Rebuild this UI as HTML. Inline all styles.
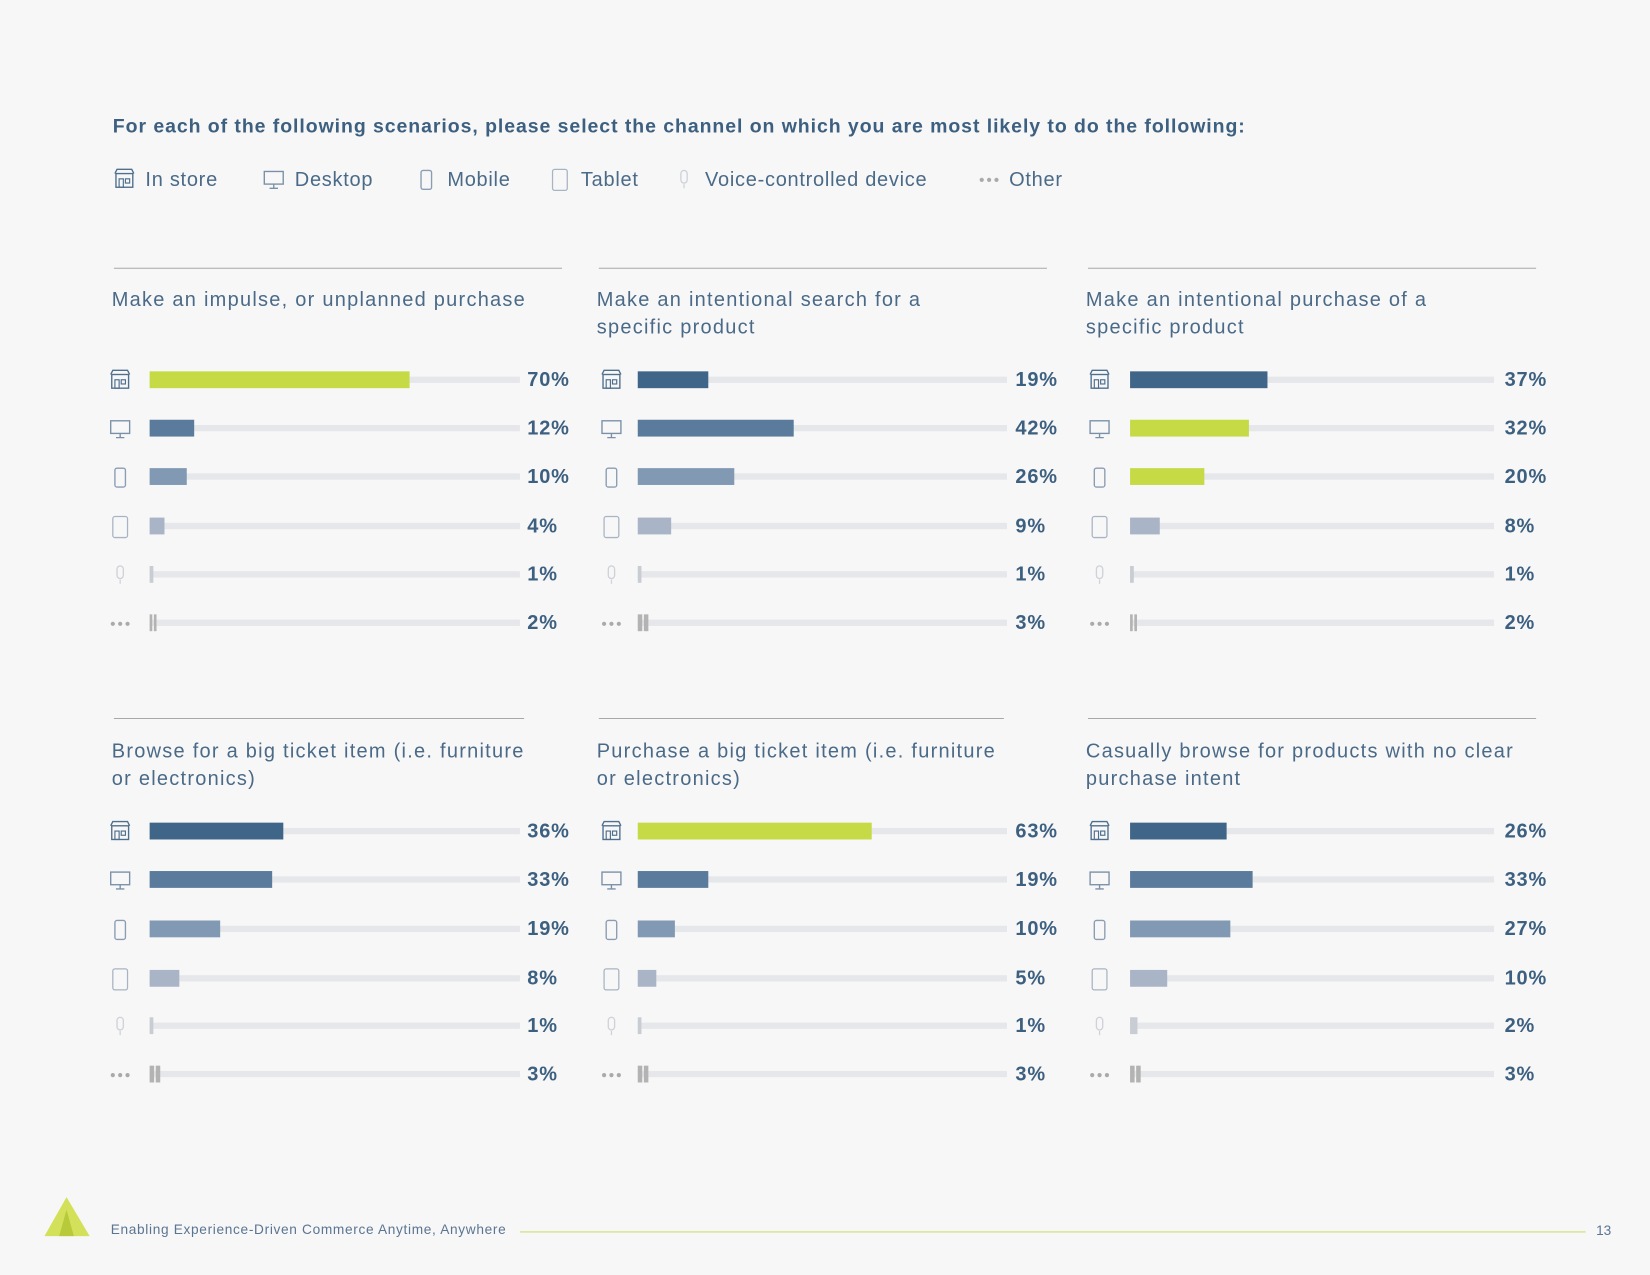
<!DOCTYPE html>
<html><head><meta charset="utf-8"><style>
html,body{margin:0;padding:0;background:#f7f7f7;}
svg{display:block;font-family:"Liberation Sans",sans-serif;}
.t{fill:#4a6a88;font-size:19px;letter-spacing:0.7px;}
.pt{fill:#4a6a88;font-size:19px;letter-spacing:1.2px;}
.pct{fill:#3d6080;font-size:19px;font-weight:bold;letter-spacing:0.8px;}
</style></head><body>
<svg id="chart" width="1650" height="1275" viewBox="0 0 1568 1212" xmlns="http://www.w3.org/2000/svg">
<rect width="1568" height="1212" fill="#f7f7f7"/>
<text x="107" y="126" fill="#3d6080" font-size="18.5" font-weight="bold" letter-spacing="0.9">For each of the following scenarios, please select the channel on which you are most likely to do the following:</text>
<g id="legend"></g>
<g id="panels"></g>
<g>
<polygon points="63,1138 85,1175 42,1175" fill="#d3e05a"/>
<polygon points="63,1150 70,1175 56,1175" fill="#b8c93a"/>
<text x="105" y="1173" fill="#5a7592" font-size="13" letter-spacing="0.5" textLength="376">Enabling Experience-Driven Commerce Anytime, Anywhere</text>
<line x1="494" y1="1171" x2="1507" y2="1171" stroke="#d8e494" stroke-width="1.5"/>
<text x="1517" y="1174" fill="#5a7592" font-size="13">13</text>
</g>
</svg>
<script>
const channels=["In store","Desktop","Mobile","Tablet","Voice-controlled device","Other"];
const scenarios=[["Make an impulse, or unplanned purchase"],["Make an intentional search for a","specific product"],["Make an intentional purchase of a","specific product"],["Browse for a big ticket item (i.e. furniture","or electronics)"],["Purchase a big ticket item (i.e. furniture","or electronics)"],["Casually browse for products with no clear","purchase intent"]];
const values1=[70,12,10,4,1,2];
const values2=[19,42,26,9,1,3];
const values3=[37,32,20,8,1,2];
const values4=[36,33,19,8,1,3];
const values5=[63,19,10,5,1,3];
const values6=[26,33,27,10,2,3];
const highlights=[[0],[],[1,2],[],[0],[]];
const allValues=[values1,values2,values3,values4,values5,values6];
const NS="http://www.w3.org/2000/svg";
function mk(tag,attrs,parent){const e=document.createElementNS(NS,tag);for(const k in attrs)e.setAttribute(k,attrs[k]);parent.appendChild(e);return e;}
const colors=["#3f6688","#5b7b9c","#8199b3","#a9b5c7","#c8ccd3","#b3b3b3"];
function icon(i,x,y,p){const g=mk('g',{},p);
 const st=i===4?'#cfd3d8':(i===5?'#aaa':'#4f6f8e');
 if(i===0){mk('rect',{x:x-8,y:y-6,width:16,height:13,fill:'none',stroke:st,'stroke-width':1.3},g);mk('path',{d:`M${x-9} ${y-6}L${x-7} ${y-10}H${x+7}L${x+9} ${y-6}`,fill:'none',stroke:st,'stroke-width':1.3},g);mk('rect',{x:x-5,y:y-1,width:4,height:8,fill:'none',stroke:st,'stroke-width':1.1},g);mk('rect',{x:x+1,y:y-1,width:4,height:4,fill:'none',stroke:st,'stroke-width':1.1},g);}
 else if(i===1){mk('rect',{x:x-9,y:y-8,width:18,height:12,fill:'none',stroke:'#7a90a8','stroke-width':1.3},g);mk('path',{d:`M${x-4} ${y+8}H${x+4}M${x} ${y+4}V${y+8}`,stroke:'#7a90a8','stroke-width':1.3},g);}
 else if(i===2){mk('rect',{x:x-5,y:y-9,width:10,height:18,rx:2,fill:'none',stroke:'#8a9db2','stroke-width':1.3},g);}
 else if(i===3){mk('rect',{x:x-7,y:y-10,width:14,height:20,rx:2,fill:'none',stroke:'#a8b4c4','stroke-width':1.2},g);}
 else if(i===4){mk('rect',{x:x-3,y:y-9,width:6,height:12,rx:3,fill:'none',stroke:st,'stroke-width':1.3},g);mk('path',{d:`M${x} ${y+4}V${y+8}`,stroke:st,'stroke-width':1.2},g);}
 else {for(let k=-1;k<=1;k++)mk('circle',{cx:x+k*7,cy:y,r:2,fill:st},g);}
 return g;}
const legendX=[118,260,405,532,650,940];
const legendG=document.getElementById('legend');
channels.forEach((c,i)=>{const g=mk('g',{},legendG);


icon(i,legendX[i],171,g);const t=mk('text',{x:legendX[i]+(i===5?19:20),y:177,class:'t'},g);t.textContent=c;});
const colIcon=[114,581,1045],colBar=[142,606,1074],colEnd=[494,957,1420],colLbl=[501,965,1430];
const ruleStart=[108,569,1034],ruleEnd=[[534,995,1460],[498,954,1460]];
const rowRule=[255,683],rowTitle=[291,720],rowBar=[[361,407,453,500,546,592],[790,836,883,930,975,1021]];
const scale=3.53;
const panelsG=document.getElementById('panels');
allValues.forEach((vals,p)=>{const r=Math.floor(p/3),c=p%3;
 const g=mk('g',{},panelsG);
 
 
 mk('line',{x1:ruleStart[c],y1:rowRule[r],x2:ruleEnd[r][c],y2:rowRule[r],stroke:'#a8a8a8','stroke-width':1},g);
 scenarios[p].forEach((ln,k)=>{const t=mk('text',{x:ruleStart[c]-2,y:rowTitle[r]+k*26,class:'pt'},g);t.textContent=ln;
  
  });
 vals.forEach((v,i)=>{const y=rowBar[r][i];
  icon(i,colIcon[c],y+1,g);
  mk('rect',{x:colBar[c],y:y-3,width:colEnd[c]-colBar[c],height:6,fill:'#e6e7eb'},g);
  const w=Math.max(2,v*scale);
  const col=highlights[p].includes(i)?'#c6da45':colors[i];
  if(i===5){
   const b1=mk('rect',{x:colBar[c],y:y-8,width:w/2-1,height:16,fill:col},g);
   
   
   mk('rect',{x:colBar[c]+w/2+0.5,y:y-8,width:w/2-1,height:16,fill:col},g);
  } else {
   const b=mk('rect',{x:colBar[c],y:y-8,width:w,height:16,fill:col},g);
   
   
  }
  const t=mk('text',{x:colLbl[c],y:y+6,class:'pct'},g);t.textContent=v+'%';
  
  
 });
});
</script>
</body></html>
